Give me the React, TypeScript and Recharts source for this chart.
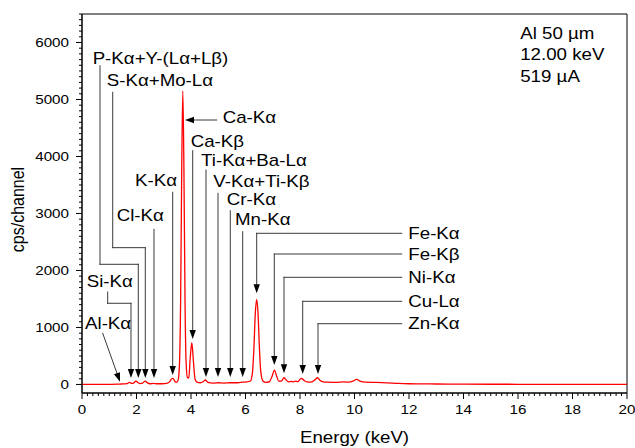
import React from 'react';
import { LineChart, Line, XAxis, YAxis, ReferenceLine, ReferenceDot, ReferenceArea } from 'recharts';

// ---- spectrum ----
const ENERGY_KEV = [
  0.0, 0.5, 1.0, 1.3, 1.45, 1.55, 1.65, 1.74, 1.8, 1.87, 1.98, 2.06, 2.14, 2.22, 2.32, 2.4, 2.5, 2.62, 2.75, 2.95,
  3.1, 3.22, 3.29, 3.34, 3.4, 3.47, 3.53, 3.58, 3.62, 3.66, 3.7, 3.74, 3.78, 3.82, 3.87, 3.92, 3.97, 4.03, 4.09, 4.15,
  4.22, 4.35, 4.45, 4.53, 4.61, 4.72, 4.85, 5.0, 5.2, 5.45, 5.7, 5.9, 6.05, 6.18, 6.26, 6.31, 6.36, 6.41, 6.46, 6.51,
  6.56, 6.64, 6.75, 6.88, 6.98, 7.06, 7.14, 7.22, 7.32, 7.41, 7.49, 7.58, 7.69, 7.75, 7.82, 7.93, 8.0, 8.06, 8.13, 8.25,
  8.4, 8.55, 8.64, 8.72, 8.85, 9.0, 9.3, 9.6, 9.8, 9.95, 10.08, 10.2, 10.4, 10.8, 11.2, 11.6, 12.0, 12.5, 13.0, 14.0,
  16.0, 18.0, 20.0,
];
const COUNTS = [
  0, 0, 2, 4, 8, 10, 14, 38, 22, 18, 60, 30, 15, 22, 60, 28, 12, 18, 12, 12,
  20, 50, 100, 107, 60, 35, 80, 400, 1500, 3800, 5150, 3800, 1500, 400, 120, 110, 450, 733, 400, 90,
  40, 30, 50, 78, 40, 28, 25, 30, 25, 30, 30, 40, 45, 60, 230, 650, 1250, 1494, 1250, 650,
  230, 60, 35, 50, 150, 253, 150, 60, 60, 118, 80, 45, 55, 45, 60, 50, 90, 107, 80, 45,
  40, 80, 118, 80, 45, 40, 38, 45, 40, 60, 90, 60, 40, 35, 28, 18, 12, 10, 8, 5,
  3, 2, 1,
];

// ---- axes ----
const X_MAJOR_TICKS = [0, 2, 4, 6, 8, 10, 12, 14, 16, 18, 20];
const Y_MAJOR_TICKS = [0, 1000, 2000, 3000, 4000, 5000, 6000];
const X_TICKS = Array.from({ length: 101 }, (_, i) => Math.round(i * 2) / 10);
const Y_TICKS = Array.from({ length: 66 }, (_, i) => i * 100);
const X_DOMAIN = [0, 20];
const Y_DOMAIN = [-150, 6500];
const X_TITLE = 'Energy (keV)';
const Y_TITLE = 'cps/channel';

// ---- text box in the corner ----
const INFO_LINES = ['Al 50 µm', '12.00 keV', '519 µA'];
const INFO_E = 16.08;
const INFO_V = [6162, 5781, 5412];

// ---- peak annotations (data coordinates) ----
type Ann = { text: string; tx: number; ty: number; path: number[][]; arrow: boolean };
const ANNOTATIONS: Ann[] = [
  { text: 'P-Kα+Y-(Lα+Lβ)', tx: 0.39, ty: 5723, path: [[0.66, 5593], [0.66, 2108], [2.066, 2108], [2.066, 113]], arrow: true },
  { text: 'S-Kα+Mo-Lα', tx: 0.906, ty: 5325, path: [[1.127, 5126], [1.127, 2400], [2.323, 2400], [2.323, 113]], arrow: true },
  { text: 'Cl-Kα', tx: 1.273, ty: 2973, path: [[2.642, 2722], [2.642, 113]], arrow: true },
  { text: 'Si-Kα', tx: 0.172, ty: 1803, path: [[0.943, 1622], [0.943, 1424], [1.798, 1424], [1.798, 113]], arrow: true },
  { text: 'Al-Kα', tx: 0.11, ty: 1061, path: [[0.76, 898], [1.394, 48]], arrow: true },
  { text: 'K-Kα', tx: 1.945, ty: 3587, path: [[3.328, 3372], [3.328, 166]], arrow: true },
  { text: 'Ca-Kα', tx: 5.163, ty: 4688, path: [[4.943, 4640], [3.78, 4640]], arrow: true },
  { text: 'Ca-Kβ', tx: 3.989, ty: 4260, path: [[4.062, 4102], [4.062, 798]], arrow: true },
  { text: 'Ti-Kα+Ba-Lα', tx: 4.367, ty: 3921, path: [[4.55, 3763], [4.55, 131]], arrow: true },
  { text: 'V-Kα+Ti-Kβ', tx: 4.818, ty: 3570, path: [[4.991, 3354], [4.991, 131]], arrow: true },
  { text: 'Cr-Kα', tx: 5.31, ty: 3237, path: [[5.442, 3049], [5.442, 131]], arrow: true },
  { text: 'Mn-Kα', tx: 5.615, ty: 2886, path: [[5.897, 2680], [5.897, 131]], arrow: true },
  { text: 'Fe-Kα', tx: 11.974, ty: 2652, path: [[11.732, 2652], [6.411, 2652], [6.411, 1599]], arrow: true },
  { text: 'Fe-Kβ', tx: 11.974, ty: 2289, path: [[11.732, 2289], [7.057, 2289], [7.057, 341]], arrow: true },
  { text: 'Ni-Kα', tx: 11.974, ty: 1880, path: [[11.732, 1880], [7.413, 1880], [7.413, 196]], arrow: true },
  { text: 'Cu-Lα', tx: 11.974, ty: 1459, path: [[11.732, 1459], [8.099, 1459], [8.099, 183]], arrow: true },
  { text: 'Zn-Kα', tx: 11.974, ty: 1066, path: [[11.732, 1066], [8.661, 1066], [8.661, 183]], arrow: true },
];

const data = ENERGY_KEV.map((e, i) => ({ e, c: COUNTS[i] }));

const FONT = '"Liberation Sans", Arial, sans-serif';
const SX = 1.17;

const isMajor = (v: number, majors: number[]) => majors.some((m) => Math.abs(m - v) < 1e-6);

const XTick = (props: any) => {
  const { x, y, payload } = props;
  const v = payload.value;
  const major = isMajor(v, X_MAJOR_TICKS);
  return (
    <g>
      <line x1={x} y1={y} x2={x} y2={y + (major ? 6 : 3)} stroke="#000" strokeWidth={1} />
      {major && (
        <text transform={`translate(${x},${y + 16}) scale(${SX},1)`} textAnchor="middle" dominantBaseline="central"
          fontFamily={FONT} fontSize={13} fill="#000">{String(v)}</text>
      )}
    </g>
  );
};

const YTick = (props: any) => {
  const { x, y, payload } = props;
  const v = payload.value;
  const major = isMajor(v, Y_MAJOR_TICKS);
  return (
    <g>
      <line x1={x - (major ? 6 : 3)} y1={y} x2={x} y2={y} stroke="#000" strokeWidth={1} />
      {major && (
        <text transform={`translate(${x - 13},${y}) scale(${SX},1)`} textAnchor="end" dominantBaseline="central"
          fontFamily={FONT} fontSize={13} fill="#000">{String(v)}</text>
      )}
    </g>
  );
};

const segShape = (arrow: boolean) => (p: any) => {
  const { x1, y1, x2, y2 } = p;
  if ([x1, y1, x2, y2].some((n) => typeof n !== 'number' || isNaN(n))) return <g />;
  let head = null;
  let ex = x2;
  let ey = y2;
  if (arrow) {
    const dx = x2 - x1;
    const dy = y2 - y1;
    const len = Math.sqrt(dx * dx + dy * dy) || 1;
    const ux = dx / len;
    const uy = dy / len;
    const L = 9;
    const W = 3.2;
    const bx = x2 - ux * L;
    const by = y2 - uy * L;
    ex = bx;
    ey = by;
    head = (
      <polygon
        points={`${x2},${y2} ${bx - uy * W},${by + ux * W} ${bx + uy * W},${by - ux * W}`}
        fill="#000"
        stroke="none"
      />
    );
  }
  return (
    <g>
      <line x1={x1} y1={y1} x2={ex} y2={ey} stroke="#3a3a3a" strokeWidth={1} strokeLinecap="square" />
      {head}
    </g>
  );
};

const textShape = (text: string, size: number) => (p: any) => {
  const { cx, cy } = p;
  if (typeof cx !== 'number' || typeof cy !== 'number') return <g />;
  return (
    <text transform={`translate(${cx},${cy}) scale(${SX},1)`} textAnchor="start" dominantBaseline="central"
      fontFamily={FONT} fontSize={size} fill="#000">{text}</text>
  );
};

export default function App() {
  const segments: React.ReactNode[] = [];
  ANNOTATIONS.forEach((a, ai) => {
    for (let i = 0; i < a.path.length - 1; i++) {
      const last = i === a.path.length - 2;
      segments.push(
        <ReferenceLine
          key={`seg-${ai}-${i}`}
          segment={[{ x: a.path[i][0], y: a.path[i][1] }, { x: a.path[i + 1][0], y: a.path[i + 1][1] }]}
          ifOverflow="visible"
          shape={segShape(a.arrow && last)}
        />
      );
    }
  });

  return (
    <div style={{ position: 'absolute', left: 0, top: 0 }}>
      <LineChart width={635} height={448} data={data} margin={{ top: 14, right: 8, bottom: 0, left: 0 }}>
        <XAxis
          dataKey="e"
          type="number"
          domain={X_DOMAIN}
          ticks={X_TICKS}
          interval={0}
          tickLine={false}
          tickSize={0}
          tickMargin={0}
          tick={XTick}
          axisLine={{ stroke: '#000', strokeWidth: 1 }}
          height={55}
          allowDataOverflow
          label={{
            content: (p: any) => {
              const vb = p.viewBox || { x: 82, y: 393, width: 545, height: 55 };
              return (
                <text transform={`translate(${vb.x + vb.width / 2},${vb.y + 44}) scale(${SX},1)`} textAnchor="middle"
                  dominantBaseline="central" fontFamily={FONT} fontSize={16} fill="#000">{X_TITLE}</text>
              );
            },
          }}
        />
        <YAxis
          type="number"
          domain={Y_DOMAIN}
          ticks={Y_TICKS}
          interval={0}
          tickLine={false}
          tickSize={0}
          tickMargin={0}
          tick={YTick}
          axisLine={{ stroke: '#000', strokeWidth: 1 }}
          width={82}
          allowDataOverflow
          label={{
            content: (p: any) => {
              const vb = p.viewBox || { x: 0, y: 14, width: 82, height: 379 };
              return (
                <text transform={`translate(${vb.x + 18},${vb.y + vb.height / 2 + 6}) scale(${SX},1) rotate(-90)`}
                  textAnchor="middle" dominantBaseline="central" fontFamily={FONT} fontSize={16} fill="#000">{Y_TITLE}</text>
              );
            },
          }}
        />
        <ReferenceArea x1={X_DOMAIN[0]} x2={X_DOMAIN[1]} y1={Y_DOMAIN[0]} y2={Y_DOMAIN[1]} fill="none" fillOpacity={0}
          stroke="#000" strokeWidth={1} ifOverflow="visible" />
        {segments}
        {ANNOTATIONS.map((a, i) => (
          <ReferenceDot key={`lbl-${i}`} x={a.tx} y={a.ty} r={0} ifOverflow="visible" shape={textShape(a.text, 16)} />
        ))}
        {INFO_LINES.map((t, i) => (
          <ReferenceDot key={`info-${i}`} x={INFO_E} y={INFO_V[i]} r={0} ifOverflow="visible" shape={textShape(t, 16)} />
        ))}
        <Line type="monotone" dataKey="c" stroke="#ff0000" strokeWidth={1.3} dot={false} isAnimationActive={false} />
      </LineChart>
    </div>
  );
}
